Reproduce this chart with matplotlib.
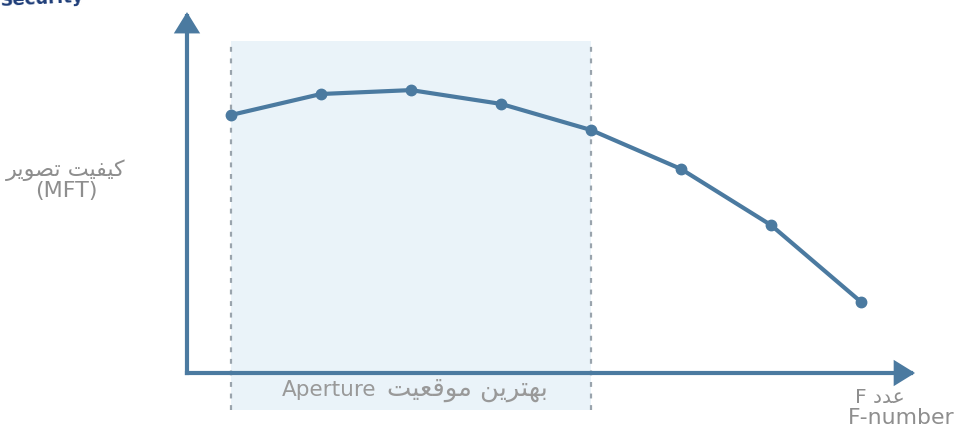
import numpy as np
import matplotlib
matplotlib.use("Agg")
import matplotlib.pyplot as plt

# --- data -------------------------------------------------------------
f_positions = [1, 2, 3, 4, 5, 6, 7, 8]
quality = [86, 93, 94.3, 89.7, 81, 68, 49.3, 23.7]
best_range = (1, 5)

y_title = "کیفیت تصویر"
y_sub = "(MFT)"
x_title = "عدد F"
x_sub = "F-number"
band_label_fa = "بهترین موقعیت"
band_label_en = "Aperture"
corner_text = "Security"

# --- minimal Persian shaping (matplotlib has no complex text layout) ---
FORMS = {
    # isolated, final, initial, medial
    "ب": ("\uFE8F", "\uFE90", "\uFE91", "\uFE92"),
    "ت": ("\uFE95", "\uFE96", "\uFE97", "\uFE98"),
    "ه": ("\uFEE9", "\uFEEA", "\uFEEB", "\uFEEC"),
    "ر": ("\uFEAD", "\uFEAE", "\uFEAD", "\uFEAE"),
    "ی": ("\uFBFC", "\uFBFD", "\uFBFE", "\uFBFF"),
    "ن": ("\uFEE5", "\uFEE6", "\uFEE7", "\uFEE8"),
    "م": ("\uFEE1", "\uFEE2", "\uFEE3", "\uFEE4"),
    "و": ("\uFEED", "\uFEEE", "\uFEED", "\uFEEE"),
    "ق": ("\uFED5", "\uFED6", "\uFED7", "\uFED8"),
    "ع": ("\uFEC9", "\uFECA", "\uFECB", "\uFECC"),
    "ک": ("\uFB8E", "\uFB8F", "\uFB90", "\uFB91"),
    "ف": ("\uFED1", "\uFED2", "\uFED3", "\uFED4"),
    "ص": ("\uFEB9", "\uFEBA", "\uFEBB", "\uFEBC"),
    "د": ("\uFEA9", "\uFEAA", "\uFEA9", "\uFEAA"),
}
RIGHT_JOINING = set("ادذرزو")


def shape_word(word):
    out = []
    for i, c in enumerate(word):
        if c not in FORMS:
            out.append(c)
            continue
        prev = word[i - 1] if i > 0 else None
        nxt = word[i + 1] if i + 1 < len(word) else None
        j_prev = prev in FORMS and prev not in RIGHT_JOINING
        j_next = nxt in FORMS and c not in RIGHT_JOINING
        iso, fin, ini, med = FORMS[c]
        if j_prev and j_next:
            out.append(med)
        elif j_prev:
            out.append(fin)
        elif j_next:
            out.append(ini)
        else:
            out.append(iso)
    return "".join(reversed(out))


def rtl(text):
    words = text.split(" ")
    vis = []
    for w in reversed(words):
        if any(ch in FORMS for ch in w):
            vis.append(shape_word(w))
        else:
            vis.append(w)
    return " ".join(vis)


# --- figure -------------------------------------------------------------
W, H = 957, 436
fig = plt.figure(figsize=(W / 100, H / 100), dpi=100)
fig.patch.set_facecolor("white")
ax = fig.add_axes([0, 0, 1, 1])
ax.set_axis_off()

# scale: 90 px per F step, 3 px per quality unit
ax.set_xlim(1 - 231 / 90, 1 + (W - 231) / 90)
ax.set_ylim(-(H - 373) / 3, 373 / 3)

blue = "#4b7aa0"
grey_text = "#8e8e8e"

# highlighted aperture band
band_bottom, band_top = -12.3, 110.7
ax.fill_between(best_range, band_bottom, band_top, color="#eaf3f9", zorder=0, lw=0)
for bx in best_range:
    ax.plot([bx, bx], [band_bottom, band_top], color="#9aa4ad", lw=1.6,
            ls=(0, (2.2, 3.0)), zorder=1)

# axes with arrows
x0, y0 = 0.511, 0
arrow_kw = dict(arrowstyle="-|>,head_length=0.55,head_width=0.34",
                color=blue, lw=3.0, shrinkA=0, shrinkB=0,
                mutation_scale=20, capstyle="projecting", joinstyle="miter")
ax.annotate("", xy=(x0, 120.3), xytext=(x0, y0), arrowprops=arrow_kw, zorder=3)
ax.annotate("", xy=(8.6, y0), xytext=(x0, y0), arrowprops=arrow_kw, zorder=3)

# quality curve
ax.plot(f_positions, quality, color=blue, lw=3.0, marker="o", ms=7.5,
        mec=blue, mfc=blue, zorder=4, solid_joinstyle="round")

fam = ["DejaVu Sans"]
ax.text(-0.833, 67.6, rtl(y_title), ha="center", va="center", fontsize=16,
        color=grey_text, family=fam)
ax.text(-0.833, 60.8, y_sub, ha="center", va="center", fontsize=16,
        color=grey_text, family=fam)

ax.text(8.489, -8.0, rtl(x_title), ha="right", va="center", fontsize=14.5,
        color=grey_text, family=fam)
ax.text(9.044, -15.0, x_sub, ha="right", va="center", fontsize=15.8,
        color=grey_text, family=fam)

# band caption: Latin word on the left, Persian words to its right
ax.text(2.611, -5.67, band_label_en, ha="right", va="center", fontsize=15.5,
        color="#999999", family=fam)
ax.text(2.73, -5.4, rtl(band_label_fa), ha="left", va="center", fontsize=18.5,
        color="#999999", family=fam)

ax.text(-1.5667, 122.3, corner_text, ha="left", va="baseline", fontsize=13,
        fontweight="bold", color="#1e3d78", rotation=3, family=fam, clip_on=False)

fig.savefig("out.png", dpi=100, facecolor="white")
